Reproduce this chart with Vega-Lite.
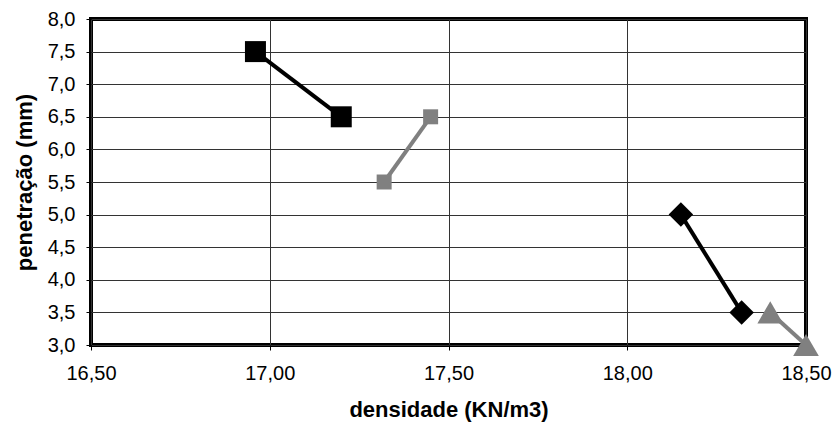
{
  "$schema": "https://vega.github.io/schema/vega-lite/v6.json",
  "width": 715,
  "height": 326,
  "autosize": "none",
  "padding": {"left": 91, "top": 19, "right": 31, "bottom": 83},
  "background": "white",
  "config": {
    "font": "Liberation Sans",
    "view": {"stroke": "#000000", "strokeWidth": 4},
    "axis": {
      "domain": false,
      "gridColor": "#333333",
      "gridWidth": 1,
      "gridOpacity": 1,
      "tickColor": "#000000",
      "tickSize": 5,
      "tickWidth": 1,
      "labelColor": "#000000",
      "labelFontSize": 20,
      "labelFont": "Liberation Sans",
      "titleColor": "#000000",
      "titleFont": "Liberation Sans",
      "titleFontSize": 22,
      "titleFontWeight": "bold"
    }
  },
  "data": {
    "values": [
      {"serie": "A", "densidade": 16.96, "penetracao": 7.5},
      {"serie": "A", "densidade": 17.20, "penetracao": 6.5},
      {"serie": "B", "densidade": 17.32, "penetracao": 5.5},
      {"serie": "B", "densidade": 17.45, "penetracao": 6.5},
      {"serie": "C", "densidade": 18.15, "penetracao": 5.0},
      {"serie": "C", "densidade": 18.32, "penetracao": 3.5},
      {"serie": "D", "densidade": 18.40, "penetracao": 3.5},
      {"serie": "D", "densidade": 18.50, "penetracao": 3.0}
    ]
  },
  "encoding": {
    "x": {
      "field": "densidade",
      "type": "quantitative",
      "title": "densidade (KN/m3)",
      "scale": {"domain": [16.5, 18.5], "nice": false, "zero": false},
      "axis": {
        "values": [16.5, 17, 17.5, 18, 18.5],
        "labelExpr": "replace(format(datum.value, '.2f'), '.', ',')",
        "labelPadding": 13,
        "titlePadding": 16,
        "labelFlush": false
      }
    },
    "y": {
      "field": "penetracao",
      "type": "quantitative",
      "title": "penetração (mm)",
      "scale": {"domain": [3, 8], "nice": false, "zero": false},
      "axis": {
        "values": [3, 3.5, 4, 4.5, 5, 5.5, 6, 6.5, 7, 7.5, 8],
        "labelExpr": "replace(format(datum.value, '.1f'), '.', ',')",
        "labelPadding": 11,
        "titlePadding": 11,
        "labelFlush": false
      }
    },
    "color": {
      "field": "serie",
      "type": "nominal",
      "scale": {"domain": ["A", "B", "C", "D"], "range": ["#000000", "#808080", "#000000", "#808080"]},
      "legend": null
    }
  },
  "layer": [
    {
      "mark": {"type": "line", "strokeWidth": 4, "clip": false},
      "encoding": {"detail": {"field": "serie", "type": "nominal"}}
    },
    {
      "mark": {"type": "point", "filled": true, "opacity": 1, "clip": false},
      "encoding": {
        "shape": {
          "field": "serie",
          "type": "nominal",
          "scale": {"domain": ["A", "B", "C", "D"], "range": ["square", "square", "diamond", "triangle-up"]},
          "legend": null
        },
        "size": {
          "field": "serie",
          "type": "nominal",
          "scale": {"type": "ordinal", "domain": ["A", "B", "C", "D"], "range": [441, 225, 600, 660]},
          "legend": null
        }
      }
    }
  ]
}
